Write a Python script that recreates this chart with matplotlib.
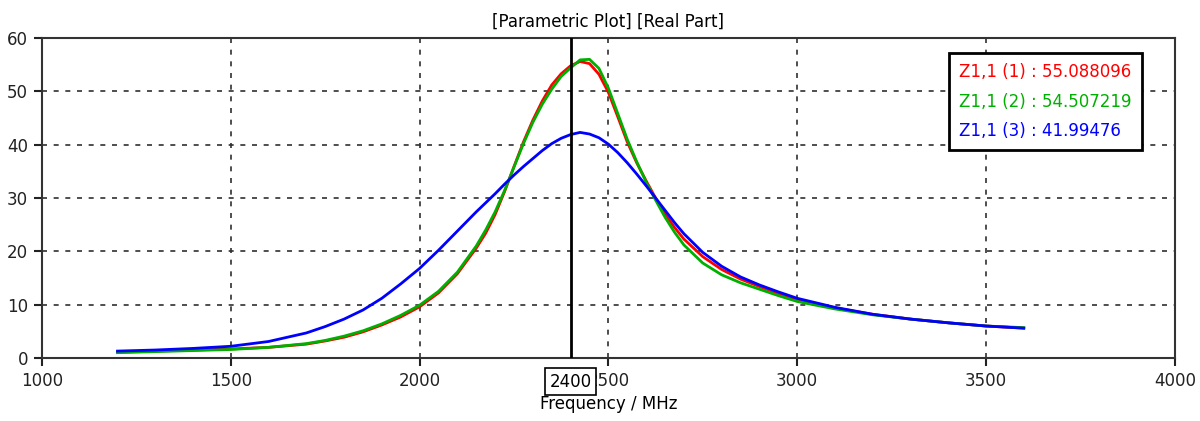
import matplotlib.pyplot as plt

# frequency samples (MHz)
freq = [1200, 1300, 1400, 1500, 1600, 1700, 1750, 1800, 1850, 1900, 1950, 2000,
        2050, 2100, 2150, 2175, 2200, 2225, 2250, 2275, 2300, 2325, 2350, 2375,
        2400, 2425, 2450, 2475, 2500, 2525, 2550, 2575, 2600, 2625, 2650, 2675,
        2700, 2750, 2800, 2850, 2900, 2950, 3000, 3100, 3200, 3300, 3400, 3500,
        3600]

z1 = [1.1, 1.3, 1.5, 1.7, 2.0, 2.6, 3.2, 3.9, 4.9, 6.2, 7.7, 9.6,
      12.2, 15.8, 20.6, 23.4, 26.9, 31.2, 35.9, 40.5, 44.6, 48.2, 51.2, 53.3,
      54.8, 55.6, 55.2, 53.2, 49.8, 45.2, 40.5, 36.6, 33.2, 30.0, 27.0, 24.5,
      22.3, 19.0, 16.6, 14.8, 13.4, 12.1, 11.0, 9.4, 8.2, 7.3, 6.6, 6.0,
      5.6]
z2 = [1.0, 1.2, 1.4, 1.6, 2.0, 2.7, 3.3, 4.1, 5.1, 6.4, 8.0, 9.9,
      12.5, 16.1, 21.0, 24.0, 27.4, 31.4, 35.8, 40.2, 44.2, 47.6, 50.4, 52.8,
      54.4, 55.9, 56.0, 54.3, 50.6, 45.8, 41.0, 36.8, 33.0, 29.6, 26.4, 23.6,
      21.2, 17.8, 15.6, 14.1, 12.9, 11.7, 10.6, 9.2, 8.1, 7.3, 6.6, 6.0,
      5.7]
z3 = [1.3, 1.5, 1.8, 2.2, 3.1, 4.7, 5.9, 7.3, 9.0, 11.2, 13.9, 16.8,
      20.2, 23.8, 27.4, 29.1, 30.8, 32.6, 34.3, 35.9, 37.4, 38.9, 40.2, 41.2,
      41.9, 42.3, 42.0, 41.3, 40.1, 38.5, 36.6, 34.5, 32.3, 30.0, 27.7, 25.4,
      23.3, 19.8, 17.2, 15.2, 13.7, 12.4, 11.2, 9.5, 8.2, 7.3, 6.6, 6.0,
      5.6]

labels = ['Z1,1 (1) : 55.088096', 'Z1,1 (2) : 54.507219', 'Z1,1 (3) : 41.99476']
colours = ['#ff0000', '#00b000', '#0000ff']
marker_f = 2400

fig = plt.figure(figsize=(12, 4.21), dpi=100)
ax = fig.add_axes([0.035, 0.1496, 0.944, 0.7601])

for y, lab, c in zip([z1, z2, z3], labels, colours):
    ax.plot(freq, y, color=c, lw=2, label=lab, solid_joinstyle='round')

ax.axvline(marker_f, color='black', lw=2, zorder=5)

ax.set_xlim(1000, 4000)
ax.set_ylim(0, 60)
ax.set_xticks(range(1000, 4001, 500))
ax.set_yticks(range(0, 61, 10))
ax.grid(True, color='#303030', ls=(0, (3, 4)), lw=1.2)
ax.tick_params(length=6, width=1.5, labelsize=12, colors='#222222', pad=4)
for s in ax.spines.values():
    s.set_linewidth(1.5)
    s.set_color('#333333')

ax.set_title('[Parametric Plot] [Real Part]', fontsize=12, pad=8)
ax.set_xlabel('Frequency / MHz', fontsize=12, labelpad=4)

# marker value box over the x tick labels
ax.annotate(str(marker_f), xy=(marker_f, 0), xycoords=('data', 'axes fraction'),
            xytext=(0, -17), textcoords='offset points', ha='center', va='center',
            fontsize=12, zorder=10, annotation_clip=False,
            bbox=dict(boxstyle='square,pad=0.25', fc='white', ec='black', lw=1.2))

leg = ax.legend(loc='upper left', bbox_to_anchor=(0.801, 0.953), borderaxespad=0,
                handlelength=0, handletextpad=0, fontsize=12, fancybox=False,
                framealpha=1, edgecolor='black', borderpad=0.6, labelspacing=0.7)
leg.get_frame().set_linewidth(2)
for t, c in zip(leg.get_texts(), colours):
    t.set_color(c)
for h in leg.legend_handles:
    h.set_visible(False)

fig.savefig('out.png', dpi=100)
